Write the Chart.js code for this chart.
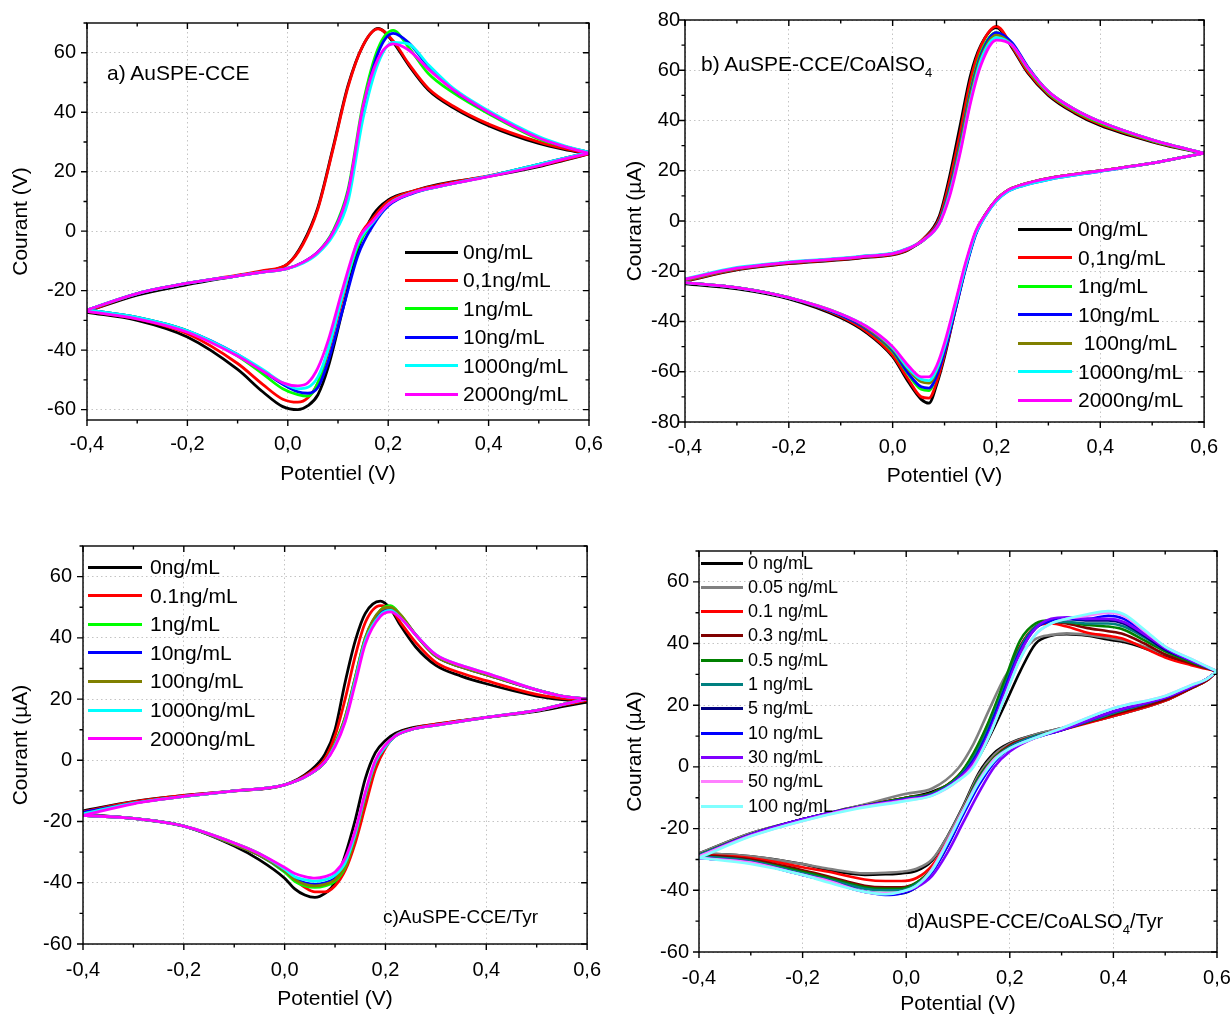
<!DOCTYPE html>
<html>
<head>
<meta charset="utf-8">
<script src="https://cdn.jsdelivr.net/npm/chart.js@4.4.1/dist/chart.umd.min.js"></script>
<style>
  body { margin: 0; background: #fff; width: 1231px; height: 1014px; overflow: hidden; position: relative;
         font-family: "Liberation Sans", Arial, sans-serif; color: #000; }
  canvas { position: absolute; }
  .lg { position: absolute; display: flex; align-items: center; height: 24px; white-space: pre; }
  .lg i { display: block; height: 3px; margin-right: 6px; }
  .note { position: absolute; white-space: nowrap; }
  .note sub { font-size: 13px; vertical-align: -6px; }
</style>
</head>
<body>
<canvas id="cA"></canvas>
<canvas id="cB"></canvas>
<canvas id="cC"></canvas>
<canvas id="cD"></canvas>

<div class="note" style="left:107px;top:61px;font-size:21px">a) AuSPE-CCE</div>
<div class="note" style="left:701px;top:52px;font-size:21px">b) AuSPE-CCE/CoAlSO<sub>4</sub></div>
<div class="note" style="left:383px;top:906px;font-size:19px">c)AuSPE-CCE/Tyr</div>
<div class="note" style="left:907px;top:910px;font-size:20px">d)AuSPE-CCE/CoALSO<sub>4</sub>/Tyr</div>

<script>
// ---- data ----
const xTicks = [-0.4, -0.2, 0, 0.2, 0.4, 0.6];
const yTicksA = [-60, -40, -20, 0, 20, 40, 60];
const yTicksB = [-80, -60, -40, -20, 0, 20, 40, 60, 80];
const yTicksC = [-60, -40, -20, 0, 20, 40, 60];
const yTicksD = [-60, -40, -20, 0, 20, 40, 60];

// a) AuSPE-CCE
const labelsA = ['0ng/mL', '0,1ng/mL', '1ng/mL', '10ng/mL', '1000ng/mL', '2000ng/mL'];
const potA_up = [-0.4, -0.3, -0.2, -0.1, -0.05, 0, 0.03, 0.06, 0.09, 0.12, 0.15, 0.18, 0.21, 0.24, 0.28, 0.33, 0.4, 0.5, 0.55, 0.6];
const potA_down = [0.6, 0.55, 0.5, 0.4, 0.3, 0.25, 0.2, 0.17, 0.14, 0.11, 0.08, 0.06, 0.04, 0.02, -0.01, -0.05, -0.1, -0.2, -0.3, -0.4];
const curA_up = [
  [-27, -21.5, -18, -15, -13.5, -11, -4, 8, 28, 49, 62.5, 68.2, 63.5, 56, 47.5, 41.5, 35.5, 29.5, 27.5, 26],
  [-27, -21, -17.5, -14.8, -13.3, -11, -4.5, 7.5, 27.5, 48.5, 62.5, 68, 64, 56.5, 48, 42, 36, 30, 27.8, 26],
  [-26.5, -21, -17.5, -15, -13.8, -12.5, -10.5, -7, 0, 14, 43, 61.5, 67.5, 62, 53, 46.5, 39.5, 31, 28.5, 26.5],
  [-26.5, -21, -17.5, -15, -13.8, -12.5, -10.5, -7, -0.5, 13, 41, 60, 66.5, 63.5, 55.5, 47.5, 40, 31.5, 28.5, 26.5],
  [-26.5, -21, -17.5, -15, -13.8, -12.5, -10.8, -7.5, -1.5, 10, 38, 56.5, 63.5, 63, 56, 48, 40.5, 31.8, 28.8, 26.5],
  [-26.5, -21, -17.5, -15, -13.8, -12.5, -10.5, -7, -0.5, 13, 42, 58, 63, 61, 54.5, 47.5, 40, 31.3, 28.5, 26.2]
];
const curA_down = [
  [26, 23.8, 21.7, 18.4, 15.7, 13.5, 10.5, 5.5, -6, -26, -46, -55, -58.7, -60, -59, -54, -46.5, -35.6, -30, -27.3],
  [26, 24, 22, 18.6, 15.5, 13.5, 10, 4.5, -3, -22, -41, -51, -56, -57.5, -56.5, -51.5, -44.5, -34.5, -29.5, -27],
  [26.5, 24.5, 22.5, 18.5, 15, 13, 9, 3, -5, -21, -40, -51, -55.5, -55, -53, -48, -42, -33.5, -29, -26.5],
  [26.5, 24.5, 22.5, 18.5, 15, 12.8, 8.5, 2, -8, -26, -44, -52.5, -54.5, -54, -51.5, -47, -41.5, -33.5, -29, -26.5],
  [26.5, 24.5, 22.5, 18.5, 15, 13, 9, 3, -4, -21, -40, -49, -52.5, -53, -51, -46.5, -41.5, -33.5, -29, -26.5],
  [26.2, 24.2, 22, 18.3, 15, 13, 9, 3.5, -3, -19, -37, -46, -51, -52, -51, -47, -42, -34, -29.5, -27]
];

// b) AuSPE-CCE/CoAlSO4
const labelsB = ['0ng/mL', '0,1ng/mL', '1ng/mL', '10ng/mL', ' 100ng/mL', '1000ng/mL', '2000ng/mL'];
const potB_up = [-0.4, -0.3, -0.2, -0.1, -0.05, 0, 0.03, 0.06, 0.09, 0.11, 0.13, 0.15, 0.17, 0.2, 0.23, 0.26, 0.3, 0.35, 0.4, 0.5, 0.55, 0.6];
const potB_down = [0.6, 0.55, 0.5, 0.4, 0.3, 0.25, 0.22, 0.2, 0.18, 0.16, 0.14, 0.12, 0.1, 0.085, 0.07, 0.055, 0.03, 0, -0.05, -0.1, -0.2, -0.3, -0.4];
const curB_up = [
  [-24, -19.5, -17, -15.5, -14.5, -13.5, -11.5, -7, 2, 18, 38, 58, 70, 77, 69, 59, 50, 43, 38, 31.5, 29, 27],
  [-23.8, -19.3, -16.8, -15.3, -14.3, -13.3, -11.3, -7, 1, 16, 35, 56, 69.5, 77.5, 69.5, 59.5, 50.5, 43.5, 38.5, 31.8, 29.2, 27],
  [-23.5, -19, -16.5, -15, -14, -13, -11, -7.5, 0, 13, 31, 52, 67, 75, 70, 60.5, 51, 44, 39, 32, 29.3, 27],
  [-23.5, -19, -16.5, -15, -14, -13, -11, -7.5, 0, 13, 31, 51, 66, 75, 71, 61.5, 51.5, 44.5, 39.5, 32.3, 29.5, 27],
  [-23.5, -19, -16.5, -15, -14, -13, -11, -7.5, -0.5, 12, 30, 50, 65, 74, 70, 61, 51.5, 44.5, 39.5, 32.3, 29.5, 27],
  [-23, -18.5, -16.3, -14.8, -13.8, -12.8, -10.8, -7.5, -1, 11, 28, 48, 64, 73, 70, 61, 51.5, 44.5, 39.5, 32.3, 29.5, 27],
  [-23.2, -18.8, -16.5, -15, -14, -13, -11, -7.5, -1, 10, 27, 47, 62, 72, 70, 61, 51.5, 44.5, 39.5, 32.3, 29.5, 27]
];
const curB_down = [
  [27, 25, 23, 20, 17, 14.5, 12, 8.5, 3, -5, -19, -36, -54, -65, -72.5, -71, -64, -54, -44.5, -38.5, -31, -27, -25],
  [27, 25, 23, 20, 17, 14.5, 12, 8.5, 3, -5, -19, -36, -53, -64, -70.5, -70, -63, -53.5, -44, -38, -30.5, -26.5, -24.5],
  [27, 25, 23, 20, 17, 14.5, 12, 8.5, 3, -4.5, -18, -34, -51, -61, -67.5, -67, -61, -52, -43, -37.5, -30.5, -26.5, -24.5],
  [27, 25, 23, 19.8, 16.5, 14, 11.5, 8, 2.5, -5.5, -19.5, -36, -52, -61.5, -66.5, -66, -60.5, -51.5, -43, -37.5, -30.5, -26.5, -24.5],
  [27, 25, 23, 20, 17, 14.5, 12, 8.5, 3, -4.5, -18, -34, -50, -59.5, -64.5, -64, -59, -51, -42.5, -37, -30.5, -26.5, -24.5],
  [27, 25, 23, 19.8, 16.5, 14, 11.5, 8, 2.5, -5, -18.5, -34.5, -50, -59, -63.5, -63, -58.5, -50.5, -42, -37, -30.5, -26.5, -24.5],
  [27, 25, 23, 20, 17, 14.5, 12, 8.5, 3, -4, -17, -33, -48.5, -57.5, -62, -62, -57.5, -50, -42, -37, -30.5, -26.5, -24.5]
];

// c) AuSPE-CCE/Tyr
const labelsC = ['0ng/mL', '0.1ng/mL', '1ng/mL', '10ng/mL', '100ng/mL', '1000ng/mL', '2000ng/mL'];
const potC_up = [-0.4, -0.3, -0.2, -0.1, 0, 0.05, 0.08, 0.1, 0.12, 0.14, 0.16, 0.19, 0.21, 0.23, 0.26, 0.3, 0.35, 0.4, 0.5, 0.55, 0.6];
const potC_down = [0.6, 0.55, 0.5, 0.4, 0.3, 0.25, 0.22, 0.2, 0.18, 0.16, 0.14, 0.12, 0.1, 0.08, 0.06, 0.04, 0.02, 0, -0.05, -0.1, -0.2, -0.3, -0.4];
const curC_up = [
  [-16.5, -13.5, -11.5, -10, -8, -3.5, 2, 10, 25.5, 39, 48, 52, 49.5, 44, 37, 31, 27.5, 25, 21, 19.8, 19],
  [-16.8, -13.6, -11.5, -10, -8, -4, 0.5, 8, 20, 34, 45, 50.5, 49.5, 45, 38.5, 32, 28.5, 26, 21.5, 20.2, 19.5],
  [-17.5, -14, -11.8, -10, -8, -4.5, -0.5, 5.5, 14, 27, 40, 49, 50.5, 47.5, 41, 34, 30.5, 28, 23, 21, 20],
  [-17, -14, -11.8, -10, -8, -4.5, -0.5, 5, 13.5, 26.5, 39.5, 48.5, 49.5, 47, 41, 34, 30.5, 28, 23, 21, 20],
  [-17.5, -14, -11.8, -10, -8, -4.5, -0.5, 5.5, 14, 27, 40, 49, 50, 47.5, 41, 34, 30.5, 28, 23, 21, 20],
  [-17.5, -14, -11.8, -10, -8, -4.5, -0.5, 5, 13, 26, 39, 47.5, 49, 46.5, 41, 34.5, 31, 28.5, 23, 21, 20],
  [-18, -14.2, -11.8, -10, -8, -4.5, -0.5, 4.5, 12.5, 25, 38, 47, 48.5, 46.5, 41, 34.5, 31, 28.5, 23, 21, 20]
];
const curC_down = [
  [19, 17.5, 16, 14, 11.8, 10.5, 8.8, 6.5, 2.5, -6, -19.5, -31, -40, -43.5, -44.8, -44, -42, -38.5, -32.5, -28, -21.5, -19, -17.5],
  [19.5, 18, 16.2, 14, 11.8, 10.2, 8.2, 4, -3, -15, -27, -36, -41, -43, -43, -41.5, -39, -36, -30.5, -27, -21.5, -19, -18],
  [20, 18.2, 16.3, 14, 11.5, 10, 8, 4.5, -1, -12, -25, -35, -39.5, -41, -41.5, -41, -39.5, -36.5, -31, -27.5, -21.5, -19, -18],
  [20, 18.2, 16.3, 14, 11.5, 10, 8, 4.5, -1, -11.5, -24.5, -34, -38.5, -40, -40.5, -40, -38.5, -36, -31, -27.5, -21.5, -19, -18],
  [20, 18.2, 16.3, 14, 11.5, 10, 8, 4.5, -1, -12, -25, -34.5, -39, -40.5, -41, -40.5, -39, -36, -31, -27.5, -21.5, -19, -18],
  [20, 18.2, 16.3, 14, 11.5, 10, 8, 4.5, -0.5, -11, -24, -33.5, -37.5, -39, -39.5, -39, -38, -35.5, -30.5, -27, -21.5, -19, -18],
  [20, 18.2, 16.3, 14, 11.5, 10, 8, 5, 0, -10.5, -23, -32, -36.5, -38, -38.5, -38, -37, -35, -30.5, -27, -21.5, -19, -18]
];

// d) AuSPE-CCE/CoALSO4/Tyr
const labelsD = ['0 ng/mL', '0.05 ng/mL', '0.1 ng/mL', '0.3 ng/mL', '0.5 ng/mL', '1 ng/mL', '5 ng/mL', '10 ng/mL', '30 ng/mL', '50 ng/mL', '100 ng/mL'];
const potD_up = [-0.4, -0.3, -0.2, -0.1, 0, 0.05, 0.1, 0.13, 0.16, 0.19, 0.22, 0.25, 0.28, 0.31, 0.35, 0.39, 0.42, 0.46, 0.5, 0.55, 0.6];
const potD_down = [0.6, 0.58, 0.55, 0.5, 0.4, 0.3, 0.25, 0.2, 0.17, 0.14, 0.11, 0.08, 0.05, 0.02, -0.01, -0.04, -0.08, -0.15, -0.2, -0.3, -0.4];
const curD_up = [
  [-28, -21.5, -17, -13, -10, -8, -4, 0.5, 9.5, 20, 31, 40, 42.5, 43, 42.5, 41.3, 40.5, 38.5, 36, 33.5, 31],
  [-28, -21.5, -17, -13, -8.7, -7, -0.5, 7.5, 18.5, 29, 36.5, 41.5, 42.8, 43.3, 42.8, 41.8, 41, 39, 36.5, 33.8, 31],
  [-28.5, -22, -17, -13.3, -10, -8.5, -3, 4, 14.5, 27, 39, 45.5, 46.5, 45.5, 43.5, 42.5, 41.5, 38.5, 35.5, 33, 31],
  [-28.5, -22, -17, -13.3, -10, -8.5, -3, 4, 14.5, 27, 39, 45.5, 47, 46.5, 45, 44, 43, 40, 36.5, 33.5, 31],
  [-28.5, -22, -17, -13.3, -10, -8.5, -3, 4.5, 15, 28, 41, 46.5, 47.5, 47, 46, 45.5, 44.5, 41, 37.5, 34, 31],
  [-28.5, -22, -17, -13.3, -10.3, -8.8, -3.5, 3, 13, 26, 38.5, 45.5, 47, 47, 46.5, 46.5, 45.5, 42, 38, 34.5, 31],
  [-29, -22, -17, -13.3, -10.5, -9, -4, 2, 12, 25, 37.5, 45, 47.5, 48, 47.5, 47.5, 46.5, 42.5, 38, 34.5, 31],
  [-29, -22, -17, -13.3, -10.5, -9, -4, 2, 12, 25, 37.5, 45, 47.5, 48, 48, 49, 48, 43.5, 38.5, 34.5, 31],
  [-29, -22, -17, -13.3, -10.5, -9, -4, 1.5, 11, 24, 37, 45, 48, 48.5, 48, 48, 47, 43, 38.5, 34.5, 31],
  [-29, -22.3, -17.5, -13.5, -10.8, -9.3, -4.5, 0.5, 10, 22.5, 35, 43, 46.5, 48, 49, 50, 49, 44, 39, 35, 31],
  [-29.5, -22.5, -17.5, -13.7, -11, -9.3, -4.5, 0, 10, 22.5, 35, 43, 46.5, 48, 49.5, 50.5, 49.5, 44.5, 39, 35, 31]
];
const curD_down = [
  [31, 28, 25.5, 21.5, 16.5, 12.5, 10.5, 7.7, 4.5, -2, -12.7, -22.4, -30.4, -33.7, -34.5, -34.8, -35, -33.5, -31.5, -29, -28],
  [31, 28, 25.5, 21.5, 16.5, 12.5, 10.5, 7.5, 4, -2.5, -13, -22.5, -30, -33, -34, -34.3, -34.5, -33, -31.5, -29, -28],
  [31, 28, 25.5, 21.5, 16.5, 12, 10, 7, 3, -3.5, -14, -24, -32, -36, -37, -37, -36.5, -34, -32.5, -29.5, -28.5],
  [31, 28, 25.5, 21.8, 17, 12, 10, 7, 3, -3.5, -14, -24.5, -33, -37.5, -39, -39, -38.5, -35.5, -33.5, -30, -28.5],
  [31, 28.5, 26, 22.5, 17.5, 12, 10, 6.5, 3, -3.5, -14, -24.5, -33, -37.5, -39.5, -39.5, -39, -36, -34, -30.5, -29],
  [31, 28.5, 26, 22.5, 17.5, 12, 10, 6.5, 2.5, -4, -14.5, -25, -33.5, -38, -40, -40, -39.5, -36.5, -34.5, -30.5, -29],
  [31, 28.5, 26, 22.5, 18, 12, 9.5, 6, 2, -5, -15, -25.5, -34, -39, -41, -41, -40.5, -37, -35, -31, -29.5],
  [31, 28.5, 26, 22.5, 18, 12, 9.5, 6, 1.5, -6, -15.5, -25.5, -34, -39, -41, -41.5, -40.5, -37, -35, -31, -29.5],
  [31, 28.5, 26, 22.5, 18, 12, 9.5, 5, 0, -8.4, -18, -27.7, -35.3, -39, -40.6, -41.2, -40.5, -37, -35, -31, -29.5],
  [31, 28.5, 26.5, 23, 19, 12.5, 9.5, 6, 2.5, -4.5, -14, -24, -33, -38.5, -40.5, -41, -40.5, -37, -35, -31, -29.5],
  [31, 28.5, 26.5, 23, 19, 12.5, 9.5, 6, 2, -5, -14.5, -24.5, -33.5, -38.5, -40.5, -41.3, -40.5, -37.5, -35, -31.5, -29.5]
];

// ---- styles ----
const colorsA = ['#000000', '#ff0000', '#00ff00', '#0000ff', '#00ffff', '#ff00ff'];
const colorsB = ['#000000', '#ff0000', '#00ff00', '#0000ff', '#808000', '#00ffff', '#ff00ff'];
const colorsC = ['#000000', '#ff0000', '#00ff00', '#0000ff', '#808000', '#00ffff', '#ff00ff'];
const colorsD = ['#000000', '#808080', '#ff0000', '#800000', '#008000', '#008080', '#000080', '#0000ff', '#8000ff', '#ff80ff', '#80ffff'];

Chart.defaults.font.family = '"Liberation Sans", Arial, sans-serif';
Chart.defaults.color = '#000';

// frame; ticks point out on bottom/left and in on top/right
const frameTicks = {
  id: 'frameTicks',
  afterDatasetsDraw(chart) {
    const {ctx, chartArea: a, scales: {x, y}} = chart;
    ctx.save();
    ctx.strokeStyle = '#000';
    ctx.lineWidth = 1.4;
    ctx.strokeRect(a.left, a.top, a.right - a.left, a.bottom - a.top);
    ctx.beginPath();
    for (let k = 0; k <= 10; k++) {
      const px = x.getPixelForValue(-0.4 + k * 0.1);
      const len = k % 2 === 0 ? 6 : 3.5;
      ctx.moveTo(px, a.bottom); ctx.lineTo(px, a.bottom + len);
      ctx.moveTo(px, a.top); ctx.lineTo(px, a.top + len);
    }
    for (let v = Math.ceil(y.min / 10) * 10; v <= y.max; v += 10) {
      const py = y.getPixelForValue(v);
      const len = v % 20 === 0 ? 6 : 3.5;
      ctx.moveTo(a.left, py); ctx.lineTo(a.left - len, py);
      ctx.moveTo(a.right, py); ctx.lineTo(a.right - len, py);
    }
    ctx.stroke();
    ctx.restore();
  }
};

function branches(upE, downE, upI, downI, colors, width) {
  const sets = [];
  colors.forEach((c, i) => {
    const up = upE.map((e, k) => ({x: e, y: upI[i][k]}));
    const down = downE.map((e, k) => ({x: e, y: downI[i][k]})).reverse();
    [up, down].forEach(d => sets.push({
      data: d, borderColor: c, borderWidth: width, pointRadius: 0,
      showLine: true, fill: false, cubicInterpolationMode: 'monotone',
      order: colors.length - i
    }));
  });
  return sets;
}

function panel(p) {
  const cv = document.getElementById(p.id);
  cv.style.left = p.left + 'px';
  cv.style.top = p.top + 'px';
  cv.width = p.w; cv.height = p.h;
  cv.style.width = p.w + 'px'; cv.style.height = p.h + 'px';
  new Chart(cv, {
    type: 'scatter',
    data: {datasets: branches(p.upE, p.downE, p.upI, p.downI, p.colors, p.lw)},
    options: {
      responsive: false,
      animation: false,
      layout: {padding: {top: p.padTop, right: p.padRight, bottom: 0, left: 0}},
      plugins: {legend: {display: false}, tooltip: {enabled: false}},
      scales: {
        x: {
          type: 'linear', min: -0.4, max: 0.6,
          afterBuildTicks: s => { s.ticks = xTicks.map(v => ({value: v})); },
          afterFit: s => { s.height = p.xH; },
          grid: {color: '#c4c4c4', drawTicks: false},
          border: {display: false, dash: [1.5, 3]},
          ticks: {padding: p.xTickPad, font: {size: 20}, maxRotation: 0,
                  callback: v => v.toFixed(1).replace('.', ',')},
          title: {display: true, text: p.xTitle, font: {size: 21}, padding: {top: 0, bottom: p.xTitlePad}}
        },
        y: {
          type: 'linear', min: p.yMin, max: p.yMax,
          afterBuildTicks: s => { s.ticks = p.yTicks.map(v => ({value: v})); },
          afterFit: s => { s.width = p.yW; },
          grid: {color: '#c4c4c4', drawTicks: false},
          border: {display: false, dash: [1.5, 3]},
          ticks: {padding: p.yTickPad, font: {size: 20}, callback: v => String(v)},
          title: {display: true, text: p.yTitle, font: {size: 21}, padding: {top: p.yTitlePad, bottom: 0}}
        }
      }
    },
    plugins: [frameTicks]
  });
}

function legend(labels, colors, x0, yc, dy, lineW, gap, size, thick) {
  labels.forEach((t, i) => {
    const row = document.createElement('div');
    row.className = 'lg';
    row.style.left = x0 + 'px';
    row.style.top = (yc + i * dy - 12) + 'px';
    row.style.fontSize = size + 'px';
    const ln = document.createElement('i');
    ln.style.width = lineW + 'px';
    ln.style.height = thick + 'px';
    ln.style.marginRight = gap + 'px';
    ln.style.background = colors[i];
    row.appendChild(ln);
    row.appendChild(document.createTextNode(t));
    document.body.appendChild(row);
  });
}

panel({id: 'cA', left: 0, top: 0, w: 615, h: 500, padTop: 17, padRight: 26, yW: 87, xH: 80,
  yMin: -63.5, yMax: 70, yTicks: yTicksA, xTickPad: 12, yTickPad: 11,
  xTitle: 'Potentiel (V)', yTitle: 'Courant (V)', xTitlePad: 13, yTitlePad: 9,
  upE: potA_up, downE: potA_down, upI: curA_up, downI: curA_down, colors: colorsA, lw: 2.8});

panel({id: 'cB', left: 615, top: 0, w: 616, h: 500, padTop: 20, padRight: 26, yW: 70, xH: 78,
  yMin: -80, yMax: 80, yTicks: yTicksB, xTickPad: 13, yTickPad: 5,
  xTitle: 'Potentiel (V)', yTitle: 'Courant (µA)', xTitlePad: 11, yTitlePad: 8,
  upE: potB_up, downE: potB_down, upI: curB_up, downI: curB_down, colors: colorsB, lw: 2.8});

panel({id: 'cC', left: 0, top: 507, w: 615, h: 507, padTop: 39, padRight: 17, yW: 83, xH: 70,
  yMin: -60, yMax: 70, yTicks: yTicksC, xTickPad: 14, yTickPad: 11,
  xTitle: 'Potentiel (V)', yTitle: 'Courant (µA)', xTitlePad: 2, yTitlePad: 9,
  upE: potC_up, downE: potC_down, upI: curC_up, downI: curC_down, colors: colorsC, lw: 2.8});

panel({id: 'cD', left: 615, top: 507, w: 640, h: 512, padTop: 44, padRight: 38, yW: 84, xH: 67,
  yMin: -60, yMax: 70, yTicks: yTicksD, xTickPad: 14, yTickPad: 10,
  xTitle: 'Potential (V)', yTitle: 'Courant (µA)', xTitlePad: 2, yTitlePad: 8,
  upE: potD_up, downE: potD_down, upI: curD_up, downI: curD_down, colors: colorsD, lw: 2.6});

legend(labelsA, colorsA, 405, 252, 28.4, 53, 5, 21, 3);
legend(labelsB, colorsB, 1018, 229, 28.5, 54, 6, 21, 3);
legend(labelsC, colorsC, 88, 567, 28.6, 54, 8, 21, 3);
legend(labelsD, colorsD, 701, 563, 24.3, 42, 5, 18, 3);
</script>
</body>
</html>
